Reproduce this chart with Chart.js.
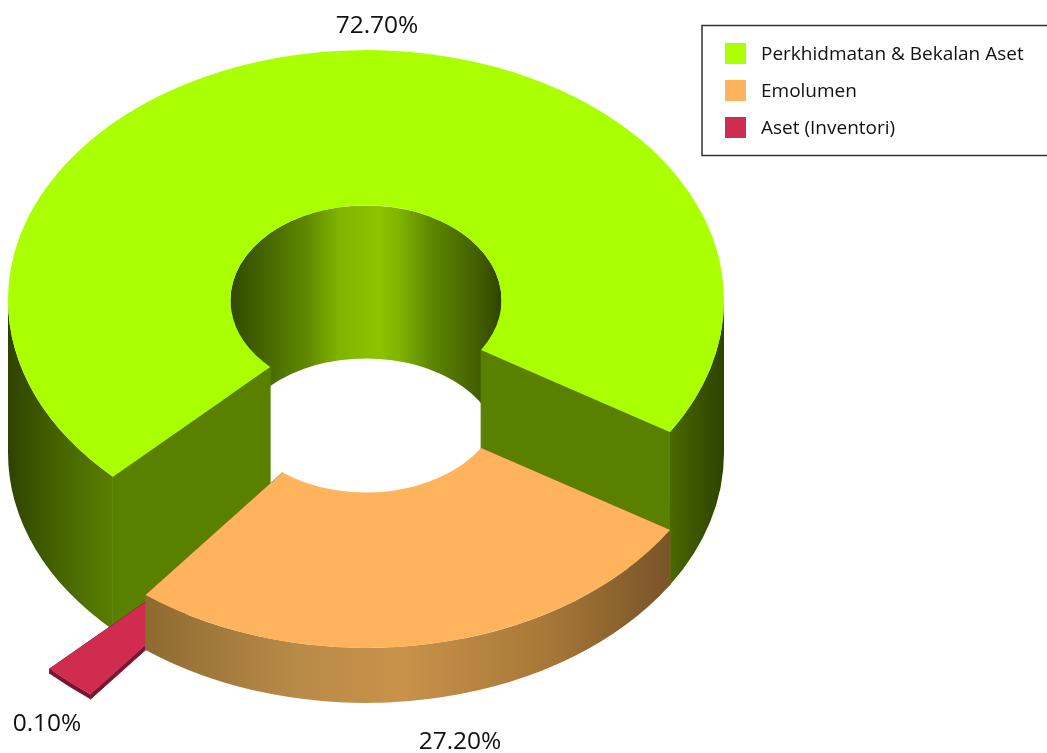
<!DOCTYPE html>
<html>
<head>
<meta charset="utf-8">
<title>Perbelanjaan</title>
<script src="https://cdn.jsdelivr.net/npm/chart.js@4/dist/chart.umd.min.js"></script>
<style>
  html, body { margin: 0; padding: 0; background: #fff; }
  canvas { display: block; }
</style>
</head>
<body>
<canvas id="chart" width="1047" height="753"></canvas>
<script>
// data
const categories = ["Perkhidmatan & Bekalan Aset", "Emolumen", "Aset (Inventori)"];
const shares = [72.7, 27.2, 0.1];
const shareLabels = ["72.70%", "27.20%", "0.10%"];

// look of the slices
const topColors = ["#aaff00", "#ffb35c", "#cf2c50"];
const faceColors = ["#5a8000", "#8d6a30", "#7a1530"];
const outerStops = [
  [[0, "#2e4300"], [0.07, "#466400"], [0.15, "#5a8000"], [0.9, "#567a00"], [0.95, "#3f5a00"], [1, "#2e4300"]],
  [[0.19, "#8d6a30"], [0.4, "#b88a48"], [0.55, "#c8924a"], [0.75, "#a87838"], [0.92, "#7a5528"]],
  [[0, "#7a1530"], [1, "#7a1530"]],
];
const innerStops = [[0, "#2f4a00"], [0.12, "#456400"], [0.28, "#5f8800"], [0.4, "#80b400"], [0.55, "#8cc400"], [0.62, "#80b400"], [0.75, "#5c8400"], [0.9, "#456200"], [1, "#2f4400"]];
const sliceDepth = [153, 55, 5];
const sliceReach = [1, 1, 1.25];
const sliceHole = [0.3785, 0.3785, 0.85];
const minSliceDeg = 7;
const drawOrder = [0, 2, 1];

const squash = 0.698;
const baseY = 453;
const labelSpots = [[377, 26], [460, 742], [47, 724]];
const labelFont = "24.5px 'Open Sans'";
const legendFont = "19px 'Open Sans'";

function visibleParts(a1, a2, lo, hi) {
  const parts = [];
  for (let k = -1; k < 3; k++) {
    const s = Math.max(a1, lo + k * 2 * Math.PI);
    const e = Math.min(a2, hi + k * 2 * Math.PI);
    if (e > s) parts.push([s, e]);
  }
  return parts;
}

function wallGradient(ctx, cx, r, stops) {
  const g = ctx.createLinearGradient(cx - r, 0, cx + r, 0);
  stops.forEach((s) => g.addColorStop(s[0], s[1]));
  return g;
}

function fillWall(ctx, cx, r, topY, a1, a2, fill) {
  ctx.beginPath();
  ctx.ellipse(cx, topY, r, r * squash, 0, a1, a2, false);
  ctx.ellipse(cx, baseY, r, r * squash, 0, a2, a1, true);
  ctx.closePath();
  ctx.fillStyle = fill;
  ctx.fill();
}

function fillFace(ctx, arc, topY, angle, fill) {
  const cos = Math.cos(angle);
  const sin = Math.sin(angle) * squash;
  const r1 = arc.innerRadius;
  const r2 = arc.outerRadius;
  ctx.beginPath();
  ctx.moveTo(arc.x + r1 * cos, topY + r1 * sin);
  ctx.lineTo(arc.x + r2 * cos, topY + r2 * sin);
  ctx.lineTo(arc.x + r2 * cos, baseY + r2 * sin);
  ctx.lineTo(arc.x + r1 * cos, baseY + r1 * sin);
  ctx.closePath();
  ctx.fillStyle = fill;
  ctx.fill();
  // hides the hairline where the face meets the outer wall
  ctx.strokeStyle = fill;
  ctx.lineWidth = 0.8;
  ctx.stroke();
}

const pie3d = {
  id: "pie3d",
  // very thin slices get a minimum width, the rest shrink to make room
  afterDatasetsUpdate(chart) {
    const arcs = chart.getDatasetMeta(0).data;
    const minAngle = (minSliceDeg * Math.PI) / 180;
    const raised = arcs.filter((a) => a.circumference < minAngle);
    const rest = arcs.filter((a) => a.circumference >= minAngle);
    const restSum = rest.reduce((s, a) => s + a.circumference, 0);
    const factor = (2 * Math.PI - raised.length * minAngle) / restSum;
    const base = arcs[0].outerRadius;
    let angle = arcs[0].startAngle;
    arcs.forEach((arc, i) => {
      const width = arc.circumference < minAngle ? minAngle : arc.circumference * factor;
      arc.startAngle = angle;
      arc.endAngle = angle + width;
      arc.circumference = width;
      arc.outerRadius = base * sliceReach[i];
      arc.innerRadius = base * sliceHole[i];
      angle += width;
    });
  },
  beforeDatasetsDraw(chart) {
    const ctx = chart.ctx;
    const arcs = chart.getDatasetMeta(0).data;
    const R = arcs[0].outerRadius;
    drawOrder.forEach((i) => {
      const arc = arcs[i];
      const topY = baseY - sliceDepth[i];
      visibleParts(arc.startAngle, arc.endAngle, Math.PI, 2 * Math.PI).forEach((p) => {
        fillWall(ctx, arc.x, arc.innerRadius, topY, p[0], p[1], wallGradient(ctx, arc.x, arc.innerRadius, innerStops));
      });
      fillFace(ctx, arc, topY, arc.startAngle, faceColors[i]);
      fillFace(ctx, arc, topY, arc.endAngle, faceColors[i]);
      visibleParts(arc.startAngle, arc.endAngle, 0, Math.PI).forEach((p) => {
        fillWall(ctx, arc.x, arc.outerRadius, topY, p[0], p[1], wallGradient(ctx, arc.x, R, outerStops[i]));
      });
      ctx.save();
      ctx.translate(0, topY);
      ctx.scale(1, squash);
      ctx.translate(0, -arc.y);
      arc.draw(ctx);
      ctx.restore();
    });
    return false;
  },
  afterDraw(chart) {
    const ctx = chart.ctx;
    ctx.save();
    ctx.fillStyle = "#111";
    ctx.textBaseline = "middle";
    ctx.textAlign = "center";
    ctx.font = labelFont;
    shareLabels.forEach((t, i) => ctx.fillText(t, labelSpots[i][0], labelSpots[i][1]));

    // legend box runs off the right edge
    ctx.strokeStyle = "#333";
    ctx.lineWidth = 1.5;
    ctx.strokeRect(702, 25.5, 360, 130);
    ctx.textAlign = "left";
    ctx.font = legendFont;
    categories.forEach((name, i) => {
      const y = 43 + i * 37;
      ctx.fillStyle = topColors[i];
      ctx.fillRect(725, y, 21, 21);
      ctx.fillStyle = "#111";
      ctx.fillText(name, 761, y + 12);
    });
    ctx.restore();
  },
};

new Chart(document.getElementById("chart"), {
  type: "doughnut",
  data: {
    labels: categories,
    datasets: [{ data: shares, backgroundColor: topColors, borderWidth: 0 }],
  },
  options: {
    responsive: false,
    animation: false,
    events: [],
    cutout: "37.85%",
    rotation: 225,
    layout: { padding: { left: 8, right: 323, top: 18.5, bottom: 18.5 } },
    plugins: { legend: { display: false }, tooltip: { enabled: false } },
  },
  plugins: [pie3d],
});
</script>
</body>
</html>
